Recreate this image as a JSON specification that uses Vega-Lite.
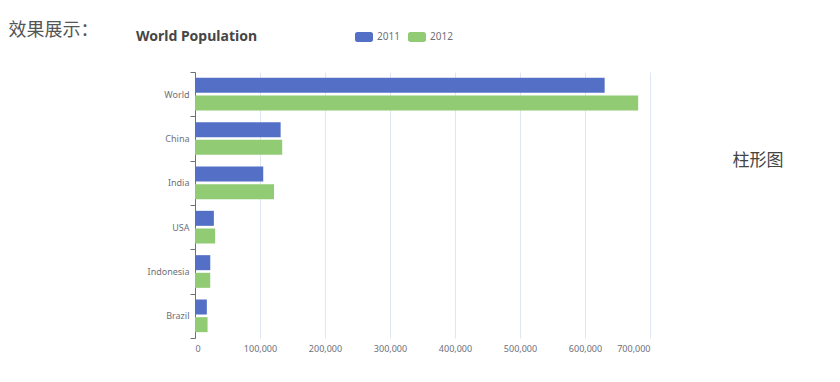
{
  "$schema": "https://vega.github.io/schema/vega-lite/v6.json",
  "width": 455,
  "height": 266,
  "autosize": "none",
  "padding": {"left": 195, "top": 72, "right": 190, "bottom": 44},
  "background": "#ffffff",
  "title": {
    "text": "World Population",
    "anchor": "start",
    "frame": "group",
    "dx": -59,
    "dy": 23,
    "offset": 0,
    "font": "Noto Sans",
    "fontSize": 14,
    "fontWeight": "bold",
    "color": "#464646"
  },
  "data": {
    "values": [
      {"country": "Brazil", "year": "2011", "value": 18203},
      {"country": "Indonesia", "year": "2011", "value": 23489},
      {"country": "USA", "year": "2011", "value": 29034},
      {"country": "India", "year": "2011", "value": 104970},
      {"country": "China", "year": "2011", "value": 131744},
      {"country": "World", "year": "2011", "value": 630230},
      {"country": "Brazil", "year": "2012", "value": 19325},
      {"country": "Indonesia", "year": "2012", "value": 23438},
      {"country": "USA", "year": "2012", "value": 31000},
      {"country": "India", "year": "2012", "value": 121594},
      {"country": "China", "year": "2012", "value": 134141},
      {"country": "World", "year": "2012", "value": 681807}
    ]
  },
  "mark": {"type": "bar"},
  "encoding": {
    "y": {
      "field": "country",
      "type": "nominal",
      "sort": ["World", "China", "India", "USA", "Indonesia", "Brazil"],
      "scale": {"paddingInner": 0, "paddingOuter": 0},
      "axis": {
        "title": "效果展示：",
        "titleAngle": 0,
        "titleX": -187,
        "titleY": -42,
        "titleAlign": "left",
        "titleBaseline": "middle",
        "titleFont": "Noto Sans CJK SC",
        "titleFontSize": 18,
        "titleFontWeight": "normal",
        "titleColor": "#555555",
        "tickBand": "extent",
        "tickSize": 5,
        "tickColor": "#6E7079",
        "domainColor": "#6E7079",
        "labelPadding": 1,
        "labelFont": "Noto Sans",
        "labelFontSize": 9,
        "labelColor": "#6E7079"
      }
    },
    "yOffset": {
      "field": "year",
      "type": "nominal",
      "sort": ["2011", "2012"],
      "scale": {"paddingInner": 0.15, "paddingOuter": 0.33}
    },
    "x": {
      "field": "value",
      "type": "quantitative",
      "scale": {"domain": [0, 700000], "nice": false},
      "axis": {
        "title": "柱形图",
        "titleX": 537,
        "titleY": -178,
        "titleAlign": "left",
        "titleBaseline": "middle",
        "titleFont": "Noto Sans CJK SC",
        "titleFontSize": 17,
        "titleFontWeight": "normal",
        "titleColor": "#444444",
        "values": [0, 100000, 200000, 300000, 400000, 500000, 600000, 700000],
        "format": ",d",
        "domain": false,
        "ticks": false,
        "tickSize": 0,
        "labelPadding": 6,
        "labelFont": "Noto Sans",
        "labelFontSize": 9,
        "labelColor": "#6E7079",
        "grid": true,
        "gridColor": "#E0E6F1"
      }
    },
    "color": {
      "field": "year",
      "type": "nominal",
      "scale": {"domain": ["2011", "2012"], "range": ["#5470c6", "#91cc75"]},
      "legend": {
        "title": null,
        "orient": "none",
        "direction": "horizontal",
        "legendX": 160,
        "legendY": -44,
        "padding": 0,
        "symbolType": "M-0.75,-0.55 H0.75 A0.25,0.25 0 0 1 1,-0.3 V0.3 A0.25,0.25 0 0 1 0.75,0.55 H-0.75 A0.25,0.25 0 0 1 -1,0.3 V-0.3 A0.25,0.25 0 0 1 -0.75,-0.55 Z",
        "symbolSize": 324,
        "symbolStrokeWidth": 0,
        "labelOffset": 4,
        "columnPadding": 8,
        "labelFont": "Noto Sans",
        "labelFontSize": 10,
        "labelColor": "#6E7079"
      }
    }
  },
  "config": {"view": {"stroke": null}}
}
